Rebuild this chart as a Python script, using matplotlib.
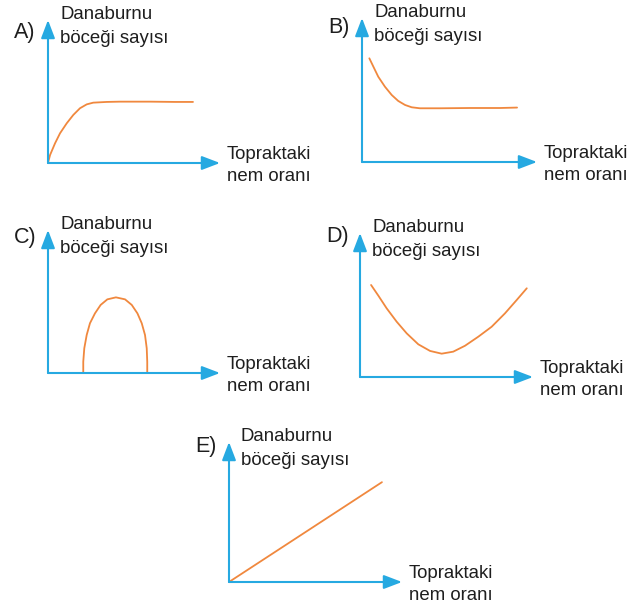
import matplotlib
matplotlib.use("Agg")
import matplotlib.pyplot as plt
from matplotlib.transforms import offset_copy

# panel letters and axis titles
letters = ["A)", "B)", "C)", "D)", "E)"]
y_title = ["Danaburnu", "böceği sayısı"]
x_title = ["Topraktaki", "nem oranı"]

# curves, both axes on a 0-10 scale
a_moist = [0, 0.12, 0.41, 0.70, 1.09, 1.47, 1.86, 2.25, 2.63, 3.41, 4.19, 5.93, 7.38, 8.43]
a_count = [0, 0.56, 1.38, 2.08, 2.78, 3.36, 3.83, 4.10, 4.22, 4.27, 4.29, 4.29, 4.27, 4.27]

b_moist = [0.42, 0.65, 0.93, 1.31, 1.70, 2.07, 2.46, 2.84, 3.31, 4.46, 6.17, 7.89, 8.86]
b_count = [7.20, 6.62, 5.92, 5.23, 4.65, 4.24, 3.96, 3.80, 3.73, 3.73, 3.75, 3.75, 3.78]

c_moist = [2.05, 2.05, 2.11, 2.25, 2.44, 2.73, 3.06, 3.45, 3.95,
           4.48, 4.87, 5.20, 5.45, 5.64, 5.74, 5.77, 5.77]
c_count = [0, 0.79, 1.73, 2.66, 3.48, 4.17, 4.76, 5.15, 5.29,
           5.15, 4.76, 4.17, 3.48, 2.66, 1.73, 0.79, 0]

d_moist = [0.64, 1.06, 1.54, 2.12, 2.70, 3.37, 4.05, 4.72, 5.39, 6.07, 6.84, 7.61, 8.38, 9.06, 9.64]
d_count = [6.39, 5.65, 4.77, 3.84, 3.03, 2.27, 1.81, 1.62, 1.76, 2.17, 2.80, 3.49, 4.42, 5.35, 6.16]

e_moist = [0, 8.84]
e_count = [0, 7.13]

curves = [(a_moist, a_count), (b_moist, b_count), (c_moist, c_count),
          (d_moist, d_count), (e_moist, e_count)]

# origin (px), axis width/height (px), letter drop below the arrow tip
boxes = [(48, 163, 172, 143, 18), (362, 162, 175, 144, 15),
         (48, 373, 172, 143, 13), (360, 377, 173, 144, 9),
         (229, 582, 173, 140, 10)]

BLUE = "#26a9e1"
ORANGE = "#f0883e"
INK = "#1e1e1e"
W, H = 640, 604

fig = plt.figure(figsize=(W / 100, H / 100), dpi=100)
fig.patch.set_facecolor("white")
plt.rcParams["font.family"] = ["Liberation Sans", "DejaVu Sans"]

for letter, (xs, ys), (ox, oy, w, h, drop) in zip(letters, curves, boxes):
    ax = fig.add_axes([ox / W, (H - oy) / H, w / W, h / H])
    ax.set_xlim(0, 10)
    ax.set_ylim(0, 10)
    ax.axis("off")

    ax.plot(xs, ys, color=ORANGE, lw=1.3, solid_capstyle="round",
            solid_joinstyle="round", clip_on=False)

    arrow = dict(arrowstyle="-|>,head_length=1.1,head_width=0.42", color=BLUE,
                 lw=1.5, shrinkA=0, shrinkB=0, mutation_scale=10)
    ax.annotate("", xy=(1, 0), xytext=(0, 0), xycoords="axes fraction",
                arrowprops=arrow, annotation_clip=False)
    ax.annotate("", xy=(0, 1), xytext=(0, 0), xycoords="axes fraction",
                arrowprops=arrow, annotation_clip=False)

    # labels are pinned to the arrow tips with pixel offsets
    def put(txt, ax_x, ax_y, dx, dy, size):
        tr = offset_copy(ax.transAxes, fig=fig, x=dx, y=dy, units="dots")
        ax.text(ax_x, ax_y, txt, transform=tr, ha="left", va="baseline",
                fontsize=size, color=INK, clip_on=False)

    put(letter, 0, 1, -34, -drop, 15.5)
    put(y_title[0], 0, 1, 12, 1, 13.4)
    put(y_title[1], 0, 1, 12, -23, 13.4)
    put(x_title[0], 1, 0, 7, 4, 13.4)
    put(x_title[1], 1, 0, 7, -18, 13.4)

fig.savefig("out.png", dpi=100, facecolor="white")
